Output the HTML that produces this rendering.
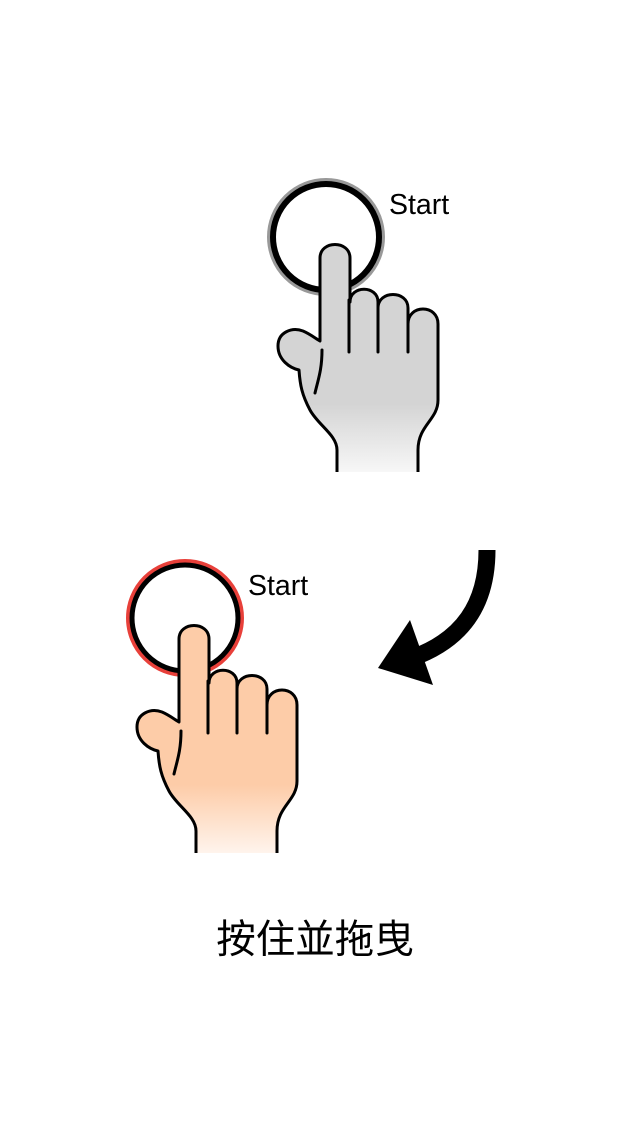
<!DOCTYPE html>
<html><head><meta charset="utf-8"><style>
html,body{margin:0;padding:0;background:#fff;width:640px;height:1136px;overflow:hidden}
svg{display:block}
text{font-family:"Liberation Sans","Noto Sans CJK SC",sans-serif}
</style></head><body>
<svg width="640" height="1136" viewBox="0 0 640 1136">
<defs>
<linearGradient id="g1" x1="0" y1="0" x2="0" y2="1" gradientUnits="objectBoundingBox">
<stop offset="0.7" stop-color="#d4d4d4"/><stop offset="1" stop-color="#f7f7f7"/></linearGradient>
<linearGradient id="g2" x1="0" y1="0" x2="0" y2="1">
<stop offset="0.7" stop-color="#fdcca8"/><stop offset="1" stop-color="#fff4ec"/></linearGradient>
<g id="hand-lines" fill="none" stroke="#000" stroke-width="3" stroke-linecap="round">
<path d="M349,300 L349,352 M378,305 L378,352 M408,320 L408,352 M322,350 C322,370 318,380 315,393"/>
</g>
</defs>
<g>
<circle cx="326" cy="237" r="56" fill="none" stroke="#999" stroke-width="6"/>
<circle cx="326" cy="237" r="53" fill="none" stroke="#000" stroke-width="6"/>
<path d="M337,472 L337,450 C337,435 318,425 310,410 C302,395 300,385 299,370 C290,368 278,360 278,346 C278,332 292,327 303,331 C310,334 315,338 320,341 L320,258 C320,240 350,240 350,258 L350,302 C350,285 378,285 378,302 L378,308 C378,290 408,290 408,308 L408,324 C408,304 438,304 438,324 L438,400 C438,420 418,425 418,450 L418,472" fill="url(#g1)" stroke="#000" stroke-width="3" stroke-linejoin="round"/>
<use href="#hand-lines"/>
<text x="389" y="214" font-size="28.5">Start</text>
</g>
<g>
<path d="M487,550 C487,605 462,640 412,658" fill="none" stroke="#000" stroke-width="17"/>
<polygon points="378,668 410,620 433,685" fill="#000"/>
</g>
<g transform="translate(-141,381)">
<circle cx="326" cy="237" r="56" fill="none" stroke="#e8403a" stroke-width="6"/>
<circle cx="326" cy="237" r="53" fill="none" stroke="#000" stroke-width="5"/>
<path d="M337,472 L337,450 C337,435 318,425 310,410 C302,395 300,385 299,370 C290,368 278,360 278,346 C278,332 292,327 303,331 C310,334 315,338 320,341 L320,258 C320,240 350,240 350,258 L350,302 C350,285 378,285 378,302 L378,308 C378,290 408,290 408,308 L408,324 C408,304 438,304 438,324 L438,400 C438,420 418,425 418,450 L418,472" fill="url(#g2)" stroke="#000" stroke-width="3" stroke-linejoin="round"/>
<use href="#hand-lines"/>
<text x="389" y="214" font-size="28.5">Start</text>
</g>
<text x="315" y="953" font-size="39.5" text-anchor="middle">按住並拖曳</text>
</svg>
</body></html>
